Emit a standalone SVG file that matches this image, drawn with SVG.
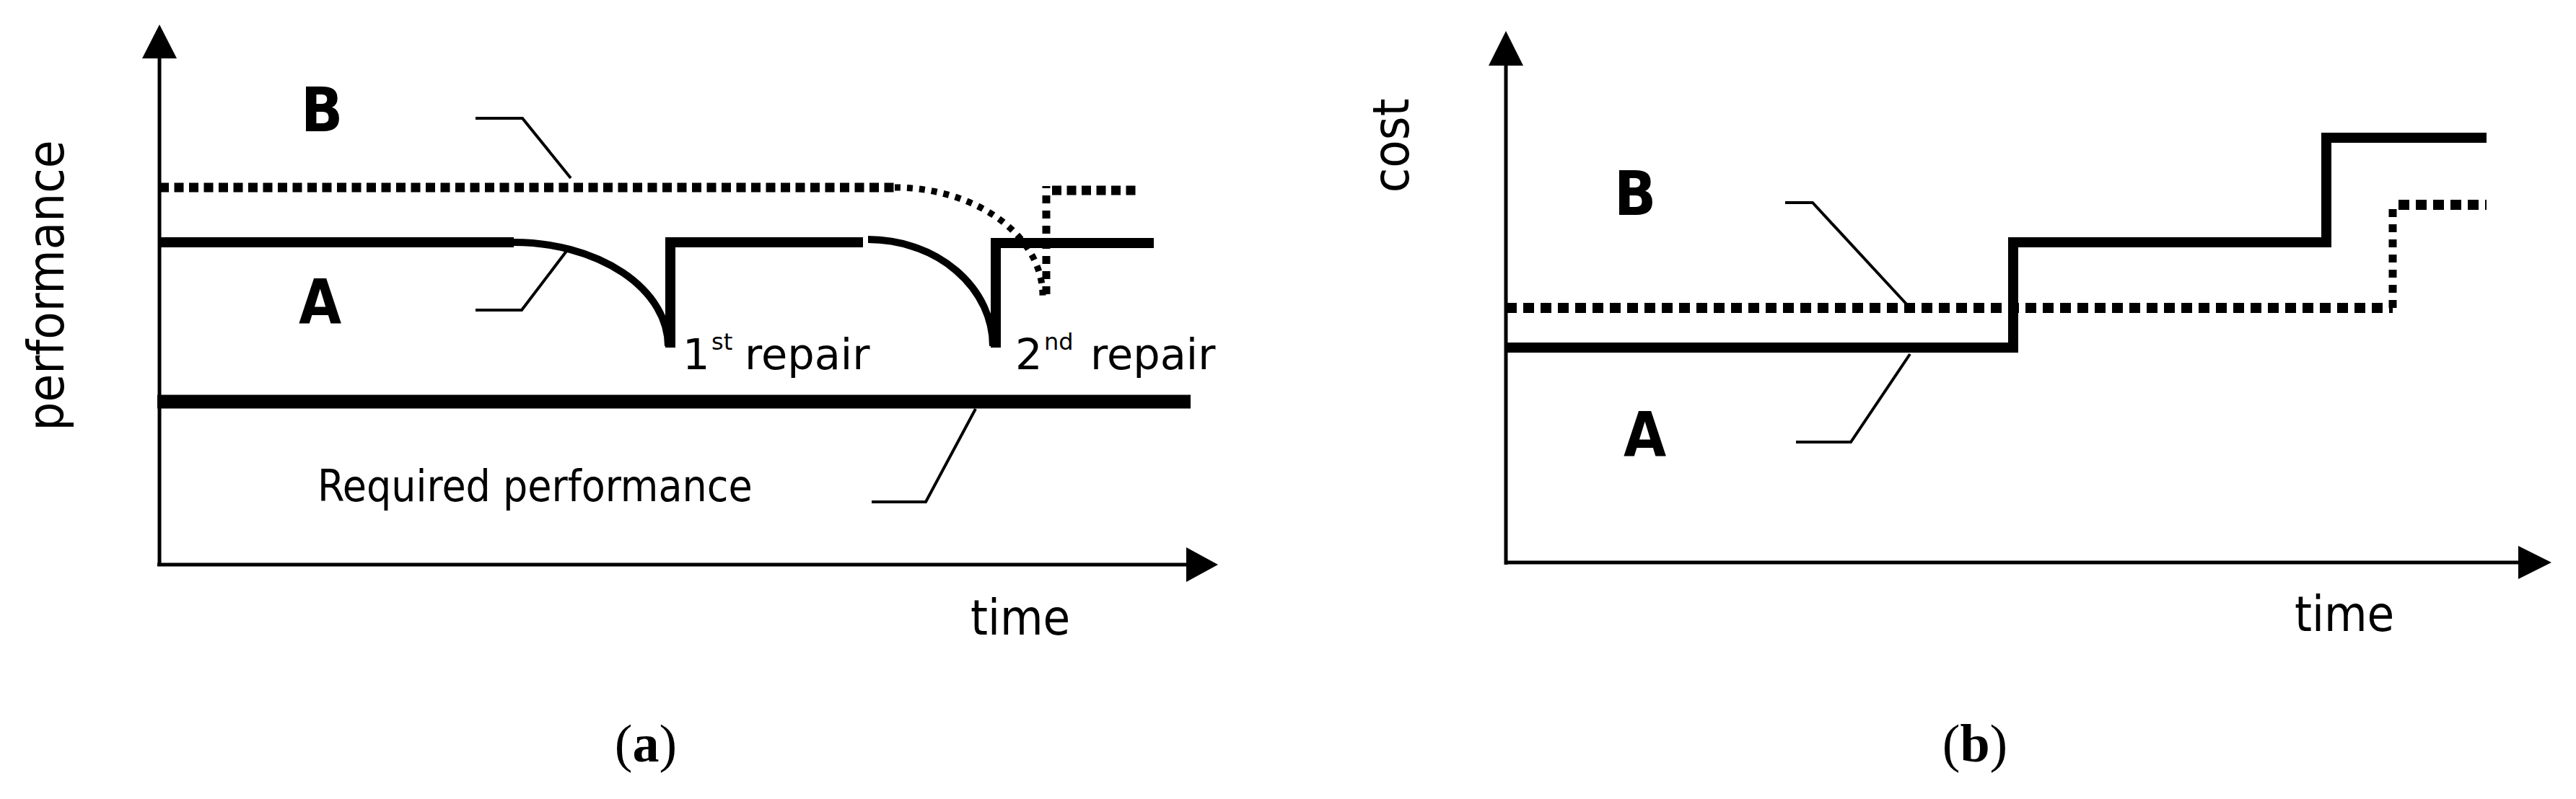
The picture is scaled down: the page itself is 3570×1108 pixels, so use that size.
<svg xmlns="http://www.w3.org/2000/svg" width="3570" height="1108" viewBox="0 0 3570 1108">
<style>
.bg{fill:#fff}
.axis{stroke:#000;stroke-width:5;fill:none}
.head{fill:#000}
.solid{stroke:#000;stroke-width:14;fill:none;stroke-linejoin:miter;stroke-linecap:butt}
.arc{stroke:#000;stroke-width:10;fill:none}
.req{stroke:#000;stroke-width:19;fill:none}
.dot{stroke:#000;stroke-width:13;fill:none;stroke-dasharray:13 7.5}
.dotb{stroke:#000;stroke-width:14;fill:none;stroke-dasharray:15 9}
.vdash{stroke:#000;stroke-width:11;fill:none;stroke-dasharray:11 10}
.fine{stroke:#000;stroke-width:9;fill:none;stroke-dasharray:8 9}
.lead{stroke:#000;stroke-width:4;fill:none}
.lbl{font-family:"DejaVu Sans Condensed","DejaVu Sans",sans-serif;font-weight:bold;font-size:85px;fill:#000}
.ax{font-family:"DejaVu Sans Condensed","DejaVu Sans",sans-serif;font-size:70px;fill:#000}
.tm{font-family:"DejaVu Sans Condensed","DejaVu Sans",sans-serif;font-size:68px;fill:#000}
.rp{font-family:"DejaVu Sans",sans-serif;font-size:59px;fill:#000}
.sup{font-family:"DejaVu Sans",sans-serif;font-size:32px;fill:#000}
.cap{font-family:"Liberation Serif","Times New Roman",serif;font-size:74px;fill:#000}
</style>
<rect class="bg" x="0" y="0" width="3570" height="1108"/>

<g id="chart-a">
  <g id="a-axes">
    <line class="axis" x1="221" y1="785" x2="221" y2="78"/>
    <polygon class="head" points="221,34 197,81 245,81"/>
    <line class="axis" x1="218" y1="783" x2="1648" y2="783"/>
    <polygon class="head" points="1688,783 1644,759 1644,807"/>
    <text class="ax" transform="translate(88,396) rotate(-90)" text-anchor="middle">performance</text>
    <text class="tm" x="1345" y="880">time</text>
  </g>
  <g id="a-line-B">
    <path class="dot" d="M221,260 H1240"/>
    <path class="fine" d="M1240,260 A205,150 0 0 1 1445,410"/>
    <path class="vdash" d="M1450,408 V258"/>
    <path class="dot" d="M1458,264 H1578"/>
  </g>
  <g id="a-line-A">
    <path class="solid" d="M221,336 H712"/>
    <path class="arc" d="M712,336 A214,144 0 0 1 926,480"/>
    <path class="solid" d="M929,482 V336 H1196"/>
    <path class="arc" d="M1203,332 A173,148 0 0 1 1376,480"/>
    <path class="solid" d="M1380,482 V337 H1599"/>
  </g>
  <g id="a-required">
    <path class="req" d="M218,557 H1650"/>
  </g>
  <g id="a-labels">
    <text class="lbl" x="417" y="182">B</text>
    <text class="lbl" x="414" y="448">A</text>
    <text class="rp" x="946" y="512">1</text>
    <text class="sup" x="986" y="485">st</text>
    <text class="rp" x="1032" y="512">repair</text>
    <text class="rp" x="1407" y="512">2</text>
    <text class="sup" x="1447" y="485">nd</text>
    <text class="rp" x="1511" y="512">repair</text>
    <text class="ax" x="440" y="695" style="font-size:60px">Required performance</text>
  </g>
  <text class="cap" x="895" y="1056" text-anchor="middle">(<tspan font-weight="bold">a</tspan>)</text>
</g>

<g id="chart-b">
  <g id="b-axes">
    <line class="axis" x1="2087" y1="783" x2="2087" y2="88"/>
    <polygon class="head" points="2087,43 2063,91 2111,91"/>
    <line class="axis" x1="2085" y1="780" x2="3494" y2="780"/>
    <polygon class="head" points="3536,780 3490,757 3490,803"/>
    <text class="ax" transform="translate(1952,202) rotate(-90)" text-anchor="middle">cost</text>
    <text class="tm" x="3180" y="875">time</text>
  </g>
  <g id="b-line-A">
    <path class="solid" d="M2087,482 H2790 V336 H3224 V191 H3446"/>
  </g>
  <g id="b-line-B">
    <path class="dotb" d="M2087,427 H3316"/>
    <path class="vdash" d="M3316,427 V280"/>
    <path class="dotb" d="M3324,284 H3446"/>
  </g>
  <g id="b-labels">
    <text class="lbl" x="2237" y="298">B</text>
    <text class="lbl" x="2250" y="632">A</text>
  </g>
  <text class="cap" x="2737" y="1056" text-anchor="middle">(<tspan font-weight="bold">b</tspan>)</text>
</g>

<g id="connectors">
  <path class="lead" d="M659,164 H724 L791,247"/>
  <path class="lead" d="M659,430 H723 L786,347"/>
  <path class="lead" d="M1208,696 H1283 L1352,567"/>
  <path class="lead" d="M2474,281 H2512 L2647,427"/>
  <path class="lead" d="M2489,613 H2565 L2647,491"/>
</g>
</svg>
